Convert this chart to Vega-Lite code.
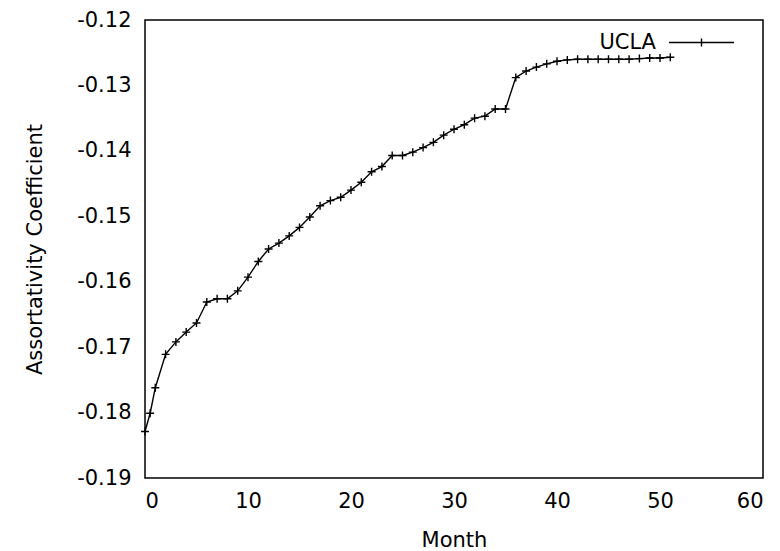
{
  "$schema": "https://vega.github.io/schema/vega-lite/v6.json",
  "autosize": "none",
  "padding": {"left": 145, "top": 20, "right": 17, "bottom": 73},
  "width": 618,
  "height": 458,
  "background": "white",
  "config": {
    "view": {"stroke": "black", "strokeWidth": 1.5},
    "font": "DejaVu Sans",
    "axis": {
      "labelFont": "DejaVu Sans",
      "labelFontSize": 21,
      "labelColor": "black",
      "titleFont": "DejaVu Sans",
      "titleFontSize": 21,
      "titleFontWeight": "normal",
      "titleColor": "black"
    }
  },
  "datasets": {
    "xticks": [{"month": 0}, {"month": 10}, {"month": 20}, {"month": 30}, {"month": 40}, {"month": 50}, {"month": 60}],
    "yticks": [{"coef": -0.19}, {"coef": -0.18}, {"coef": -0.17}, {"coef": -0.16}, {"coef": -0.15}, {"coef": -0.14}, {"coef": -0.13}, {"coef": -0.12}],
    "ucla": [
      {"month": 0, "coef": -0.1829, "series": "UCLA"},
      {"month": 0.5, "coef": -0.1801, "series": "UCLA"},
      {"month": 1, "coef": -0.1762, "series": "UCLA"},
      {"month": 2, "coef": -0.1711, "series": "UCLA"},
      {"month": 3, "coef": -0.1692, "series": "UCLA"},
      {"month": 4, "coef": -0.1677, "series": "UCLA"},
      {"month": 5, "coef": -0.1663, "series": "UCLA"},
      {"month": 6, "coef": -0.1631, "series": "UCLA"},
      {"month": 7, "coef": -0.1626, "series": "UCLA"},
      {"month": 8, "coef": -0.1626, "series": "UCLA"},
      {"month": 9, "coef": -0.1614, "series": "UCLA"},
      {"month": 10, "coef": -0.1593, "series": "UCLA"},
      {"month": 11, "coef": -0.1569, "series": "UCLA"},
      {"month": 12, "coef": -0.155, "series": "UCLA"},
      {"month": 13, "coef": -0.1541, "series": "UCLA"},
      {"month": 14, "coef": -0.153, "series": "UCLA"},
      {"month": 15, "coef": -0.1517, "series": "UCLA"},
      {"month": 16, "coef": -0.1501, "series": "UCLA"},
      {"month": 17, "coef": -0.1484, "series": "UCLA"},
      {"month": 18, "coef": -0.1476, "series": "UCLA"},
      {"month": 19, "coef": -0.1471, "series": "UCLA"},
      {"month": 20, "coef": -0.146, "series": "UCLA"},
      {"month": 21, "coef": -0.1448, "series": "UCLA"},
      {"month": 22, "coef": -0.1432, "series": "UCLA"},
      {"month": 23, "coef": -0.1424, "series": "UCLA"},
      {"month": 24, "coef": -0.1407, "series": "UCLA"},
      {"month": 25, "coef": -0.1407, "series": "UCLA"},
      {"month": 26, "coef": -0.1402, "series": "UCLA"},
      {"month": 27, "coef": -0.1395, "series": "UCLA"},
      {"month": 28, "coef": -0.1387, "series": "UCLA"},
      {"month": 29, "coef": -0.1376, "series": "UCLA"},
      {"month": 30, "coef": -0.1367, "series": "UCLA"},
      {"month": 31, "coef": -0.136, "series": "UCLA"},
      {"month": 32, "coef": -0.135, "series": "UCLA"},
      {"month": 33, "coef": -0.1347, "series": "UCLA"},
      {"month": 34, "coef": -0.1336, "series": "UCLA"},
      {"month": 35, "coef": -0.1336, "series": "UCLA"},
      {"month": 36, "coef": -0.1288, "series": "UCLA"},
      {"month": 37, "coef": -0.1278, "series": "UCLA"},
      {"month": 38, "coef": -0.1272, "series": "UCLA"},
      {"month": 39, "coef": -0.1267, "series": "UCLA"},
      {"month": 40, "coef": -0.1263, "series": "UCLA"},
      {"month": 41, "coef": -0.1261, "series": "UCLA"},
      {"month": 42, "coef": -0.126, "series": "UCLA"},
      {"month": 43, "coef": -0.126, "series": "UCLA"},
      {"month": 44, "coef": -0.126, "series": "UCLA"},
      {"month": 45, "coef": -0.126, "series": "UCLA"},
      {"month": 46, "coef": -0.126, "series": "UCLA"},
      {"month": 47, "coef": -0.126, "series": "UCLA"},
      {"month": 48, "coef": -0.1259, "series": "UCLA"},
      {"month": 49, "coef": -0.1258, "series": "UCLA"},
      {"month": 50, "coef": -0.1258, "series": "UCLA"},
      {"month": 51, "coef": -0.1257, "series": "UCLA"}
    ]
  },
  "encoding": {
    "x": {
      "field": "month",
      "type": "quantitative",
      "scale": {"domain": [0, 60], "nice": false, "zero": false},
      "axis": {
        "orient": "bottom",
        "values": [0, 10, 20, 30, 40, 50, 60],
        "domain": false,
        "grid": false,
        "ticks": false,
        "title": "Month",
        "labelPadding": 12,
        "titlePadding": 18
      }
    },
    "y": {
      "field": "coef",
      "type": "quantitative",
      "scale": {"domain": [-0.19, -0.12], "nice": false, "zero": false},
      "axis": {
        "orient": "left",
        "values": [-0.19, -0.18, -0.17, -0.16, -0.15, -0.14, -0.13, -0.12],
        "domain": false,
        "grid": false,
        "ticks": false,
        "labelExpr": "replace(format(datum.value, '.2f'), '\u2212', '-')",
        "title": "Assortativity Coefficient",
        "labelPadding": 14,
        "titlePadding": 31
      }
    }
  },
  "layer": [
    {
      "data": {"name": "ucla"},
      "mark": {"type": "line", "strokeWidth": 1.4},
      "encoding": {
        "stroke": {
          "field": "series",
          "type": "nominal",
          "scale": {"range": ["black"]},
          "legend": {
            "orient": "none",
            "legendX": 523,
            "legendY": -11,
            "title": null,
            "labelFont": "DejaVu Sans",
            "labelFontSize": 21,
            "labelColor": "black",
            "labelAlign": "right",
            "labelOffset": -79,
            "symbolType": "M-1,0H1M0,-0.123V0.123M-0.123,0H0.123",
            "symbolSize": 4225,
            "symbolStrokeWidth": 1.4,
            "padding": 0
          }
        }
      }
    },
    {
      "data": {"name": "ucla"},
      "mark": {
        "type": "point",
        "shape": "M-1,0H1M0,-1V1",
        "size": 64,
        "filled": false,
        "color": "black",
        "strokeWidth": 1.4,
        "opacity": 1
      }
    },
    {
      "data": {"name": "xticks"},
      "mark": {"type": "tick", "orient": "vertical", "size": 16, "thickness": 1.5, "color": "black", "opacity": 1, "clip": true},
      "encoding": {
        "y": {"datum": -0.19, "type": "quantitative"}
      }
    },
    {
      "data": {"name": "xticks"},
      "mark": {"type": "tick", "orient": "vertical", "size": 16, "thickness": 1.5, "color": "black", "opacity": 1, "clip": true},
      "encoding": {
        "y": {"datum": -0.12, "type": "quantitative"}
      }
    },
    {
      "data": {"name": "yticks"},
      "mark": {"type": "tick", "orient": "horizontal", "size": 16, "thickness": 1.5, "color": "black", "opacity": 1, "clip": true},
      "encoding": {
        "x": {"datum": 0, "type": "quantitative"}
      }
    },
    {
      "data": {"name": "yticks"},
      "mark": {"type": "tick", "orient": "horizontal", "size": 16, "thickness": 1.5, "color": "black", "opacity": 1, "clip": true},
      "encoding": {
        "x": {"datum": 60, "type": "quantitative"}
      }
    }
  ]
}
